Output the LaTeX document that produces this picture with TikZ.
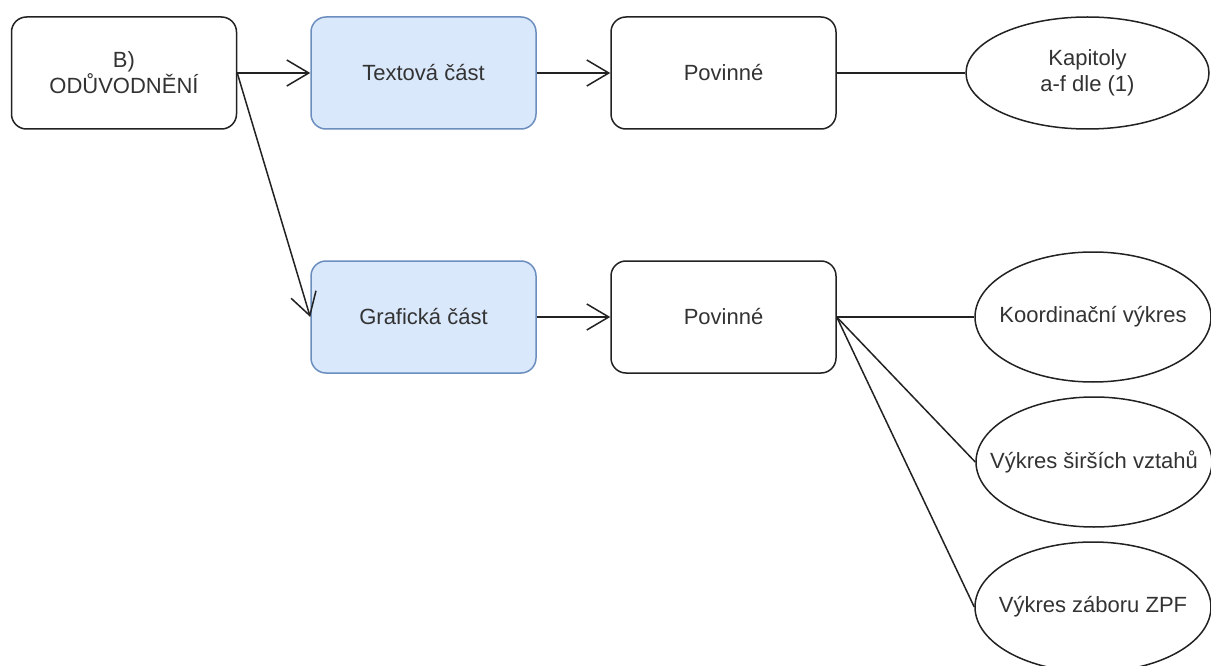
\documentclass[tikz,border=0pt]{standalone}
\usepackage{fontspec}
\setmainfont{Liberation Sans}
\usetikzlibrary{arrows.meta,shapes.geometric}
\definecolor{txt}{HTML}{333333}
\definecolor{edge}{HTML}{222222}
\definecolor{bluefill}{HTML}{DAE8FC}
\definecolor{bluedraw}{HTML}{6C8EBF}
\tikzset{
  base/.style={font=\fontsize{22}{26}\selectfont, text=txt, align=center, inner sep=0pt},
  box/.style={base, draw=edge, line width=1.5pt, fill=white, rounded corners=15pt,
    minimum width=225pt, minimum height=112pt},
  bluebox/.style={box, draw=bluedraw, fill=bluefill},
  oval/.style={base, ellipse, draw=edge, line width=1.5pt, fill=white,
    inner xsep=-30pt, inner ysep=0pt,
    minimum width=236pt, minimum height=130pt},
  link/.style={draw=edge, line width=1.5pt},
  arr/.style={link, -{Straight Barb[length=22pt,width=26pt,line width=1.5pt]}}
}
\begin{document}
\begin{tikzpicture}[x=1pt,y=-1pt]
  \useasboundingbox (0,0) rectangle (1211,666);
  \fill[white] (0,0) rectangle (1211,666);

  % rectangles
  \node[box]     (odu) at (124,73)  {B)\\ODŮVODNĚNÍ};
  \node[bluebox] (txt) at (423.5,73) {Textová část};
  \node[box]     (pov1) at (723.5,73) {Povinné};
  \node[bluebox] (gra) at (423.5,317) {Grafická část};
  \node[box]     (pov2) at (723.5,317) {Povinné};

  % ellipses
  \node[oval, minimum width=243pt, minimum height=112pt] (kap) at (1087.5,73) {Kapitoly\\a-f dle (1)};
  \node[oval] (koo) at (1093,317) {Koordinační výkres};
  \node[oval] (sir) at (1094,462) {Výkres širších vztahů};
  \node[oval] (zpf) at (1093,607) {Výkres záboru ZPF};

  % connectors
  \draw[arr] (odu.east) -- (txt.west);
  \draw[arr] (odu.east) -- (gra.west);
  \draw[arr] (txt.east) -- (pov1.west);
  \draw[arr] (gra.east) -- (pov2.west);
  \draw[link] (pov1.east) -- (kap.west);
  \draw[link] (pov2.east) -- (koo.west);
  \draw[link] (pov2.east) -- (sir.west);
  \draw[link] (pov2.east) -- (zpf.west);
\end{tikzpicture}
\end{document}
